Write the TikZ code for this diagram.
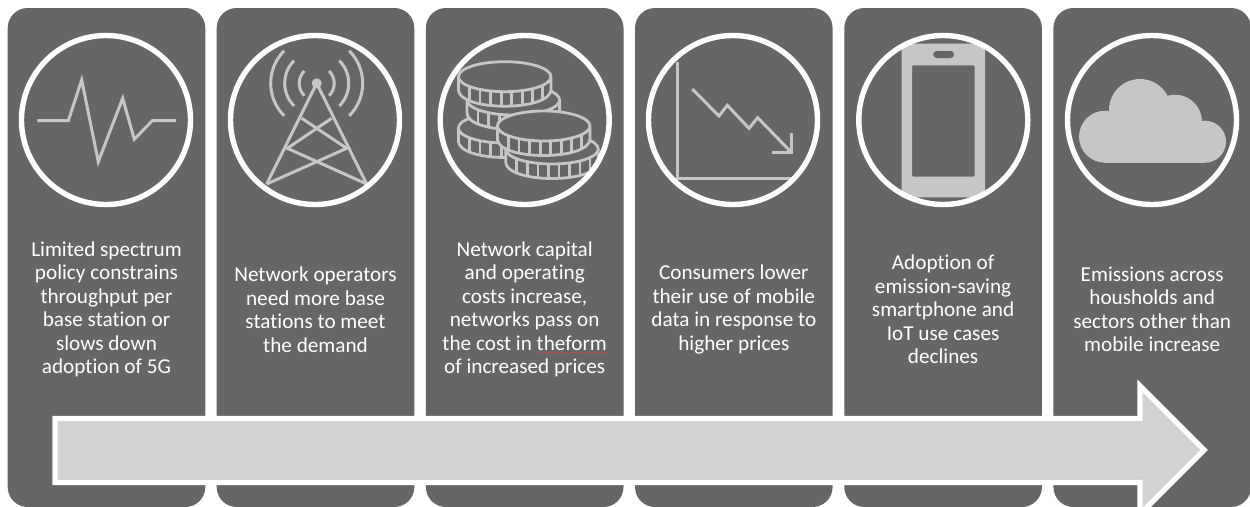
\documentclass[tikz,border=0pt]{standalone}
\usepackage{fontspec}
\setmainfont[Ligatures=NoCommon]{Carlito}
\usetikzlibrary{decorations.pathmorphing}
\definecolor{panelgrey}{HTML}{666666}
\definecolor{icongrey}{HTML}{C6C6C6}
\definecolor{arrowgrey}{HTML}{D3D3D3}
\definecolor{squiggle}{HTML}{B5504A}
\tikzset{
  panel/.style={fill=panelgrey,rounded corners=20pt,minimum width=197.6pt,minimum height=499pt,inner sep=0pt,outer sep=0pt},
  ring/.style={draw=white,line width=5.4pt},
  iconline/.style={draw=icongrey,line width=3pt,line join=miter},
  iconthin/.style={draw=icongrey,line width=2.8pt,line join=round},
  iconfill/.style={fill=icongrey,draw=none},
  caption/.style={text=white,align=center,inner sep=0pt,font=\fontsize{21.2}{23.5}\selectfont},
}
\newcommand{\coinicon}[2]{%
  \fill[panelgrey] (#1-46.3,#2) -- (#1-46.3,#2+13)
     .. controls (#1-46.3,#2+23) and (#1-25.6,#2+29.5) .. (#1,#2+29.5)
     .. controls (#1+25.6,#2+29.5) and (#1+46.3,#2+23) .. (#1+46.3,#2+13) -- (#1+46.3,#2)
     .. controls (#1+46.3,#2-8.3) and (#1+25.6,#2-15) .. (#1,#2-15)
     .. controls (#1-25.6,#2-15) and (#1-46.3,#2-8.3) .. (#1-46.3,#2) -- cycle;
  \foreach \dx/\dy in {-35.3/9.8,-24.7/12.7,-14/14.3,-3.4/15,7/14.8,17.6/13.9,28/11.9,38/8.6}{
    \draw[iconthin] (#1+\dx,#2+\dy) -- (#1+\dx,#2+\dy+14.5);
  }
  \draw[iconthin] (#1-46.3,#2) -- (#1-46.3,#2+13)
     .. controls (#1-46.3,#2+23) and (#1-25.6,#2+29.5) .. (#1,#2+29.5)
     .. controls (#1+25.6,#2+29.5) and (#1+46.3,#2+23) .. (#1+46.3,#2+13) -- (#1+46.3,#2)
     .. controls (#1+46.3,#2-8.3) and (#1+25.6,#2-15) .. (#1,#2-15)
     .. controls (#1-25.6,#2-15) and (#1-46.3,#2-8.3) .. (#1-46.3,#2)
     .. controls (#1-46.3,#2+8.3) and (#1-25.6,#2+15) .. (#1,#2+15)
     .. controls (#1+25.6,#2+15) and (#1+46.3,#2+8.3) .. (#1+46.3,#2);
}
\begin{document}
\begin{tikzpicture}[x=1pt,y=-1pt]
\useasboundingbox (0,0) rectangle (1250,506);
\fill[white] (0,0) rectangle (1250,506);
% panels
\node[panel] (p1) at (106.5,257.5) {};
\node[panel] (p2) at (315.5,257.5) {};
\node[panel] (p3) at (524.7,257.5) {};
\node[panel] (p4) at (733.8,257.5) {};
\node[panel] (p5) at (943.1,257.5) {};
\node[panel] (p6) at (1152.2,257.5) {};
% icon 1: pulse
\draw[iconline] (37.3,120.7) -- (68.3,120.7) -- (81.7,80) -- (98.3,161.7) -- (122.7,98.3) -- (134.3,139.3) -- (152.3,120.7) -- (176,120.7);
% icon 2: tower
\fill[icongrey] (316.7,83.3) circle[radius=5];
\draw[iconline] (266.7,184) -- (316.7,83.3) -- (366.7,184);
\draw[iconline] (301.7,118.3) -- (346.7,148.3) -- (266.7,184);
\draw[iconline] (331.7,118.3) -- (287.3,148.3) -- (366.7,184);
\foreach \r in {17.5,32,46}{
  \draw[iconline] (316.7,83.3) ++(135:\r) arc[start angle=135,end angle=225,radius=\r];
  \draw[iconline] (316.7,83.3) ++(-45:\r) arc[start angle=-45,end angle=45,radius=\r];
}
% icon 3: coins
\coinicon{504.7}{128}
\coinicon{513.3}{100}
\coinicon{504.7}{76.7}
\coinicon{552}{149}
\coinicon{543.7}{126}
% icon 4: chart
\draw[iconline] (677,62) -- (677,178.3) -- (791.7,178.3);
\draw[iconline] (692.3,89) -- (719,116) -- (727.3,105.3) -- (749,128.3) -- (757.7,117.7) -- (791.7,152.7);
\draw[iconline] (791.7,133.3) -- (791.7,152.7) -- (772.3,152.7);
% icon 5: phone
\fill[icongrey,even odd rule,rounded corners=1pt] (901.7,43.5) rectangle (985,197.3) (912,65.3) rectangle (974.7,176.7);
\fill[panelgrey,rounded corners=3.4pt] (933.3,51) rectangle (954,58);
% icon 6: cloud
\fill[icongrey] (1105,136.7) circle[radius=26];
\fill[icongrey] (1140,110) circle[radius=31];
\fill[icongrey] (1175,121.7) circle[radius=27];
\fill[icongrey] (1205,141.7) circle[radius=21];
\fill[icongrey] (1105,125) rectangle (1205,162.7);
% rings
\draw[ring] (106,120) circle[radius=84.5];
\draw[ring] (315,120) circle[radius=84.5];
\draw[ring] (524.7,120) circle[radius=84.5];
\draw[ring] (733,120) circle[radius=84.5];
\draw[ring] (943.3,120) circle[radius=84.5];
\draw[ring] (1152,120) circle[radius=84.5];
% captions
\node[caption] (t1) at (106.5,309.5) {Limited spectrum\\policy constrains\\throughput per\\base station or\\slows down\\adoption of 5G};
\node[caption] (t2) at (315.5,309.5) {Network operators\\need more base\\stations to meet\\the demand};
\node[caption] (t3) at (524.7,309.5) {Network capital\\and operating\\costs increase,\\networks pass on\\the cost in theform\\of increased prices};
\node[caption] (t4) at (733.8,309.5) {Consumers lower\\their use of mobile\\data in response to\\higher prices};
\node[caption] (t5) at (943.1,309.5) {Adoption of\\emission-saving\\smartphone and\\IoT use cases\\declines};
\node[caption] (t6) at (1152.2,309.5) {Emissions across\\housholds and\\sectors other than\\mobile increase};
\draw[squiggle,line width=0.8pt,decorate,decoration={snake,amplitude=0.5pt,segment length=3pt}] (537,352.5) -- (608,352.5);
% big arrow
\draw[draw=white,fill=arrowgrey,line width=5.3pt,miter limit=10] (55,418.5) -- (1140,418.5) -- (1140,386) -- (1204,450) -- (1140,514) -- (1140,482.5) -- (55,482.5) -- cycle;
\end{tikzpicture}
\end{document}
